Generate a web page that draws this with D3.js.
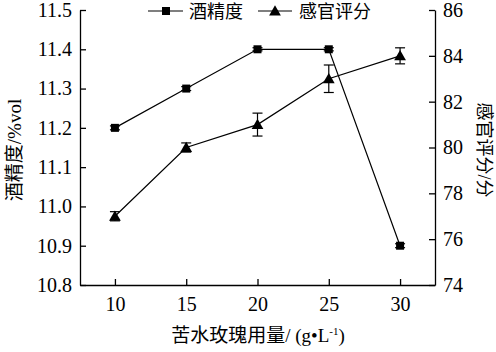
<!DOCTYPE html>
<html>
<head>
<meta charset="utf-8">
<script src="https://cdn.jsdelivr.net/npm/d3@7"></script>
<style>
body { margin: 0; background: #fff; }
.num { font-family: "Times New Roman", Times, serif; font-size: 20px; }
.cjk { font-family: "Times New Roman", "Noto Sans CJK SC", serif; }
</style>
</head>
<body>
<div id="chart"></div>
<script>
const doses = [10, 15, 20, 25, 30];
const alcohol = [11.2, 11.3, 11.4, 11.4, 10.9];
const alcoholErr = [0.005, 0.005, 0.004, 0.004, 0.005];
const score = [77.0, 80.0, 81.0, 83.0, 84.0];
const scoreErr = [0.2, 0.2, 0.5, 0.6, 0.35];
const leftTicks = [10.8, 10.9, 11.0, 11.1, 11.2, 11.3, 11.4, 11.5];
const rightTicks = [74, 76, 78, 80, 82, 84, 86];

(function () {
    let width = 496, height = 352;
    let svg = d3.select("#chart")
        .append("svg")
        .attr("width", width)
        .attr("height", height);

    let left = 80, right = 435, top = 10, bottom = 285;

    let x = d3.scaleLinear().domain([7.55, 32.45]).range([left, right]);
    let yL = d3.scaleLinear().domain([10.8, 11.5]).range([bottom, top]);
    let yR = d3.scaleLinear().domain([74, 86]).range([bottom, top]);

    let ax = svg.append("g")
        .attr("transform", `translate(0,${bottom})`)
        .call(d3.axisBottom(x).tickValues(doses).tickSize(-6).tickPadding(12).tickSizeOuter(0));
    let al = svg.append("g")
        .attr("transform", `translate(${left},0)`)
        .call(d3.axisLeft(yL).tickValues(leftTicks).tickFormat(d3.format(".1f")).tickSize(-6).tickPadding(8).tickSizeOuter(0));
    let ar = svg.append("g")
        .attr("transform", `translate(${right},0)`)
        .call(d3.axisRight(yR).tickValues(rightTicks).tickSize(-6).tickPadding(8).tickSizeOuter(0));

    [ax, al, ar].forEach(g => {
        g.attr("font-family", null).attr("font-size", null);
        g.selectAll("path,line").attr("stroke", "#000").attr("stroke-width", 1.3);
        g.selectAll("text").attr("class", "num").attr("fill", "#000");
    });

    // alcohol line
    let lineA = d3.line().x((d, i) => x(doses[i])).y(d => yL(d));
    svg.append("path").datum(alcohol)
        .attr("d", lineA).attr("fill", "none").attr("stroke", "#000").attr("stroke-width", 1.2);
    // score line
    let lineS = d3.line().x((d, i) => x(doses[i])).y(d => yR(d));
    svg.append("path").datum(score)
        .attr("d", lineS).attr("fill", "none").attr("stroke", "#000").attr("stroke-width", 1.2);

    // error bars
    function errBars(vals, errs, y) {
        let g = svg.append("g").attr("stroke", "#000").attr("stroke-width", 1.2);
        vals.forEach((v, i) => {
            let cx = x(doses[i]);
            g.append("line").attr("x1", cx).attr("x2", cx).attr("y1", y(v - errs[i])).attr("y2", y(v + errs[i]));
            g.append("line").attr("x1", cx - 5).attr("x2", cx + 5).attr("y1", y(v - errs[i])).attr("y2", y(v - errs[i]));
            g.append("line").attr("x1", cx - 5).attr("x2", cx + 5).attr("y1", y(v + errs[i])).attr("y2", y(v + errs[i]));
        });
    }
    errBars(alcohol, alcoholErr, yL);
    errBars(score, scoreErr, yR);

    let sq = d3.symbol().type(d3.symbolSquare).size(64);
    let tri = d3.symbol().type(d3.symbolTriangle).size(60);

    svg.selectAll(".sq").data(alcohol).enter().append("path")
        .attr("d", sq)
        .attr("transform", (d, i) => `translate(${x(doses[i])},${yL(d)})`)
        .attr("fill", "#000");
    svg.selectAll(".tri").data(score).enter().append("path")
        .attr("d", tri)
        .attr("transform", (d, i) => `translate(${x(doses[i])},${yR(d) + 1})`)
        .attr("fill", "#000");

    // legend
    let lg = svg.append("g");
    lg.append("line").attr("x1", 148).attr("x2", 183).attr("y1", 11).attr("y2", 11).attr("stroke", "#000").attr("stroke-width", 1.2);
    lg.append("path").attr("d", sq).attr("transform", "translate(166,11)").attr("fill", "#000");
    lg.append("text").attr("class", "cjk").attr("x", 189).attr("y", 18).attr("font-size", 18).text("酒精度");
    lg.append("line").attr("x1", 258).attr("x2", 292).attr("y1", 11).attr("y2", 11).attr("stroke", "#000").attr("stroke-width", 1.2);
    lg.append("path").attr("d", tri).attr("transform", "translate(275,12)").attr("fill", "#000");
    lg.append("text").attr("class", "cjk").attr("x", 299).attr("y", 18).attr("font-size", 18).text("感官评分");

    // axis titles
    svg.append("text").attr("class", "cjk")
        .attr("transform", "translate(21,150) rotate(-90)")
        .attr("text-anchor", "middle").attr("font-size", 19)
        .text("酒精度/%vol");
    svg.append("text").attr("class", "cjk")
        .attr("transform", "translate(478,150) rotate(90)")
        .attr("text-anchor", "middle").attr("font-size", 18)
        .text("感官评分/分");
    let xt = svg.append("text").attr("class", "cjk")
        .attr("x", 258).attr("y", 342)
        .attr("text-anchor", "middle").attr("font-size", 19);
    xt.append("tspan").text("苦水玫瑰用量/ (g•L");
    xt.append("tspan").attr("dy", -7).attr("font-size", 11).text("-1");
    xt.append("tspan").attr("dy", 7).text(")");
})()
</script>
</body>
</html>
